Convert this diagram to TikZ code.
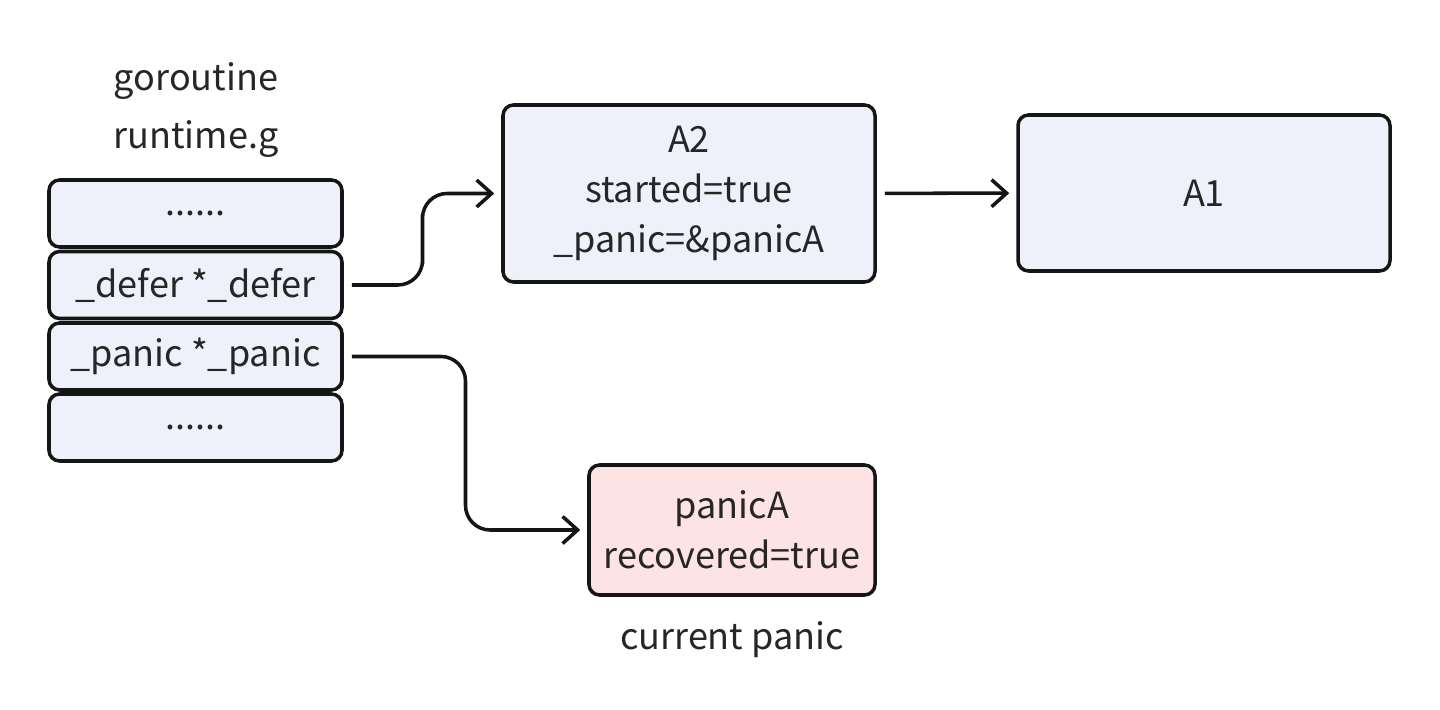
\documentclass[tikz,border=0pt]{standalone}
\usepackage{fontspec}
\setmainfont{Noto Sans CJK SC}
\usetikzlibrary{arrows.meta, positioning, calc}
\definecolor{cblue}{HTML}{EEF1F9}
\definecolor{cpink}{HTML}{FDE3E3}
\definecolor{cline}{HTML}{151515}
\definecolor{ctext}{HTML}{262626}
\tikzset{
  every picture/.style={line width=2pt},
  box/.style={draw=cline, fill=#1, rounded corners=6pt, align=center, inner sep=2pt, text=ctext,
    font=\fontsize{20.5}{28.5}\selectfont},
  box/.default=cblue,
  slot/.style={box, minimum width=5.86cm, minimum height=1.34cm},
  arrow/.style={-{Straight Barb[length=3mm, width=5.4mm, line width=2pt]}, draw=cline, rounded corners=14pt,
    shorten <=0.16cm, shorten >=0.14cm},
  label/.style={text=ctext, align=center, font=\fontsize{20.5}{32.5}\selectfont},
}
\begin{document}
\begin{tikzpicture}
  \useasboundingbox (0,0) rectangle (28.8,14.2);
  % goroutine stack
  \node[label] (g) at (3.92,12.0) {goroutine\\runtime.g};
  \node[slot] (s1) at (3.91,9.93) {......};
  \node[slot] (s2) at (3.91,8.50) {\_defer *\_defer};
  \node[slot] (s3) at (3.91,7.07) {\_panic *\_panic};
  \node[slot] (s4) at (3.91,5.65) {......};
  % defer chain
  \node[box, minimum width=7.44cm, minimum height=3.54cm] (a2) at (13.78,10.33) {A2\\started=true\\\_panic=\&panicA};
  \node[box, minimum width=7.44cm, minimum height=3.12cm] (a1) at (24.08,10.34) {A1};
  % panic
  \node[box=cpink, minimum width=5.72cm, minimum height=2.6cm] (p) at (14.64,3.6) {panicA\\recovered=true};
  \node[label] (cur) at (14.64,1.4) {current panic};
  \draw[arrow] (s2.east) -| ($(s2.east)!0.5!(a2.west)$) |- (a2.west);
  \draw[arrow] (a2) -- (a1);
  \draw[arrow] (s3.east) -| ($(s3.east)!0.5!(p.west)$) |- (p.west);
\end{tikzpicture}
\end{document}
